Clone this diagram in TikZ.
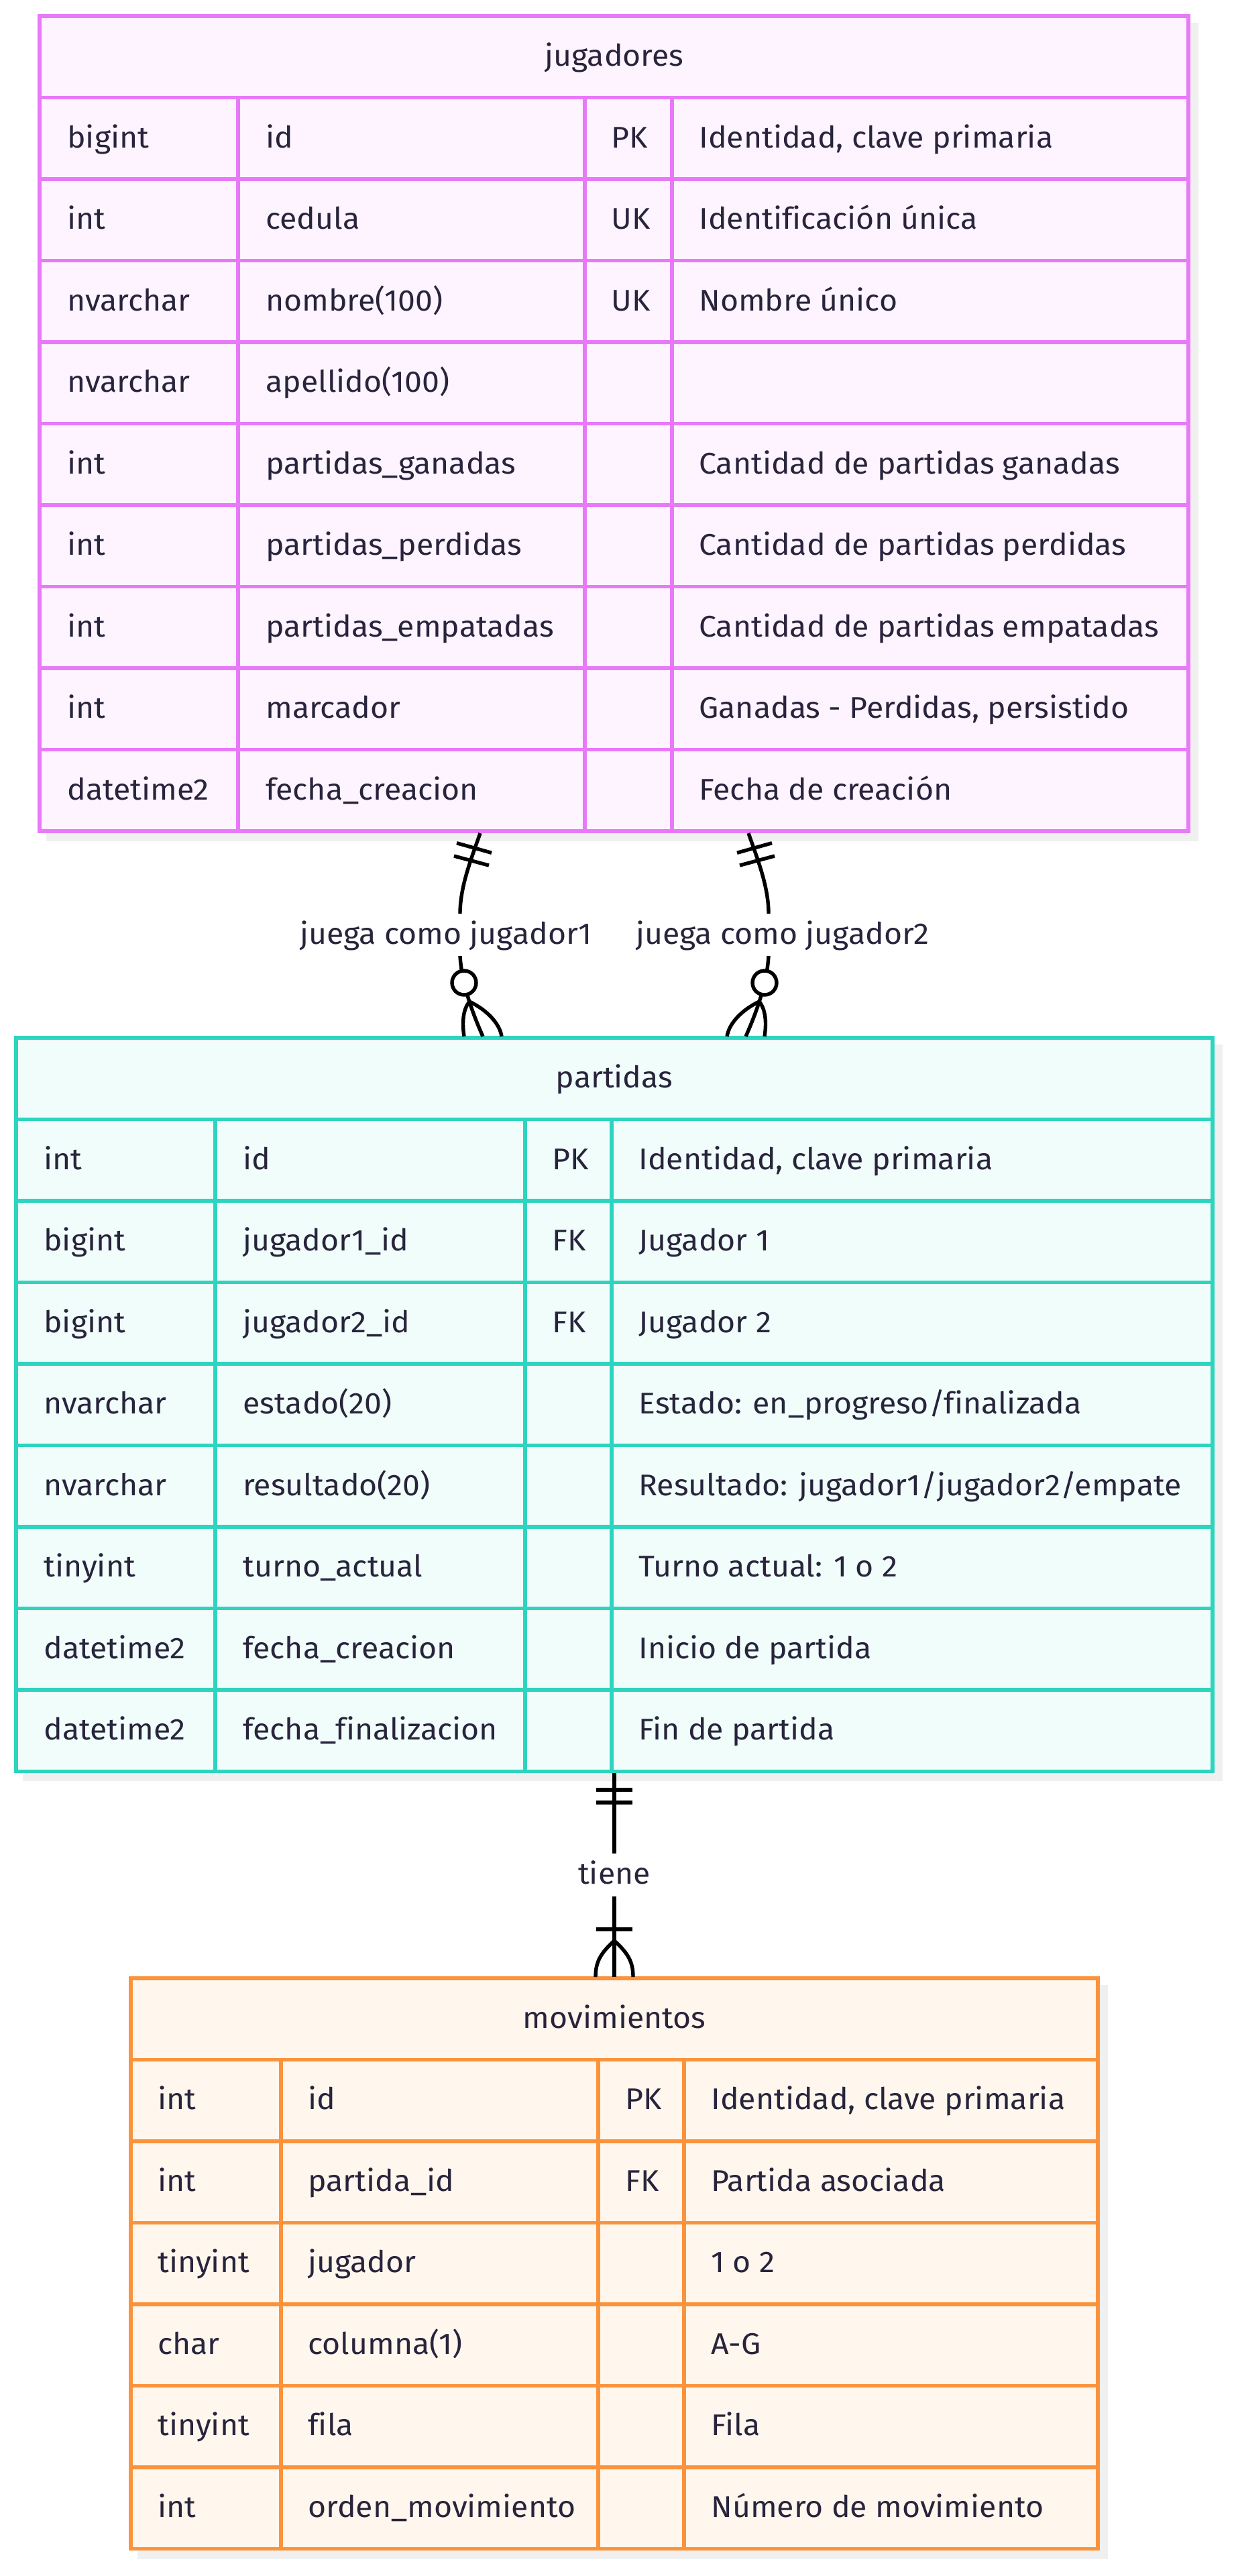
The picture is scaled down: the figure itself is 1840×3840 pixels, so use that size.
\documentclass[tikz,border=0pt]{standalone}
\usepackage{fontspec}
\setmainfont{Fira Sans}[FakeStretch=1.04, Ligatures=NoCommon]
\usepackage{xcolor}
\definecolor{jugBorde}{HTML}{E879F9}
\definecolor{jugFondo}{HTML}{FDF4FF}
\definecolor{parBorde}{HTML}{2DD4BF}
\definecolor{parFondo}{HTML}{F0FDFA}
\definecolor{movBorde}{HTML}{FB923C}
\definecolor{movFondo}{HTML}{FFF7ED}
\definecolor{texto}{HTML}{28243C}
\definecolor{sombra}{HTML}{F0F0F0}

\tikzset{
  celda/.style={anchor=base west, inner sep=0pt, text=texto, font=\fontsize{22.3}{26}\selectfont},
  titulo/.style={anchor=base, inner sep=0pt, text=texto, font=\fontsize{22.3}{26}\selectfont},
  rel/.style={line width=2.7pt, black, line cap=butt},
}

\begin{document}
\begin{tikzpicture}[x=0.5pt,y=0.5pt,yscale=-1,xscale=1]
\useasboundingbox (0,0) rectangle (1840,3840);

% jugadores
\fill [sombra] (69,34) rectangle (1787,1254);
\filldraw [draw=jugBorde, fill=jugFondo, line width=2.7pt] (59,24) rectangle (1772,1239);
\draw [jugBorde, line width=2.7pt] (59,145.5) -- (1772,145.5) (59,267) -- (1772,267) (59,388.5) -- (1772,388.5) (59,510) -- (1772,510) (59,631.5) -- (1772,631.5) (59,753) -- (1772,753) (59,874.5) -- (1772,874.5) (59,996) -- (1772,996) (59,1117.5) -- (1772,1117.5) (355,145.5) -- (355,1239) (872,145.5) -- (872,1239) (1002,145.5) -- (1002,1239) ;
\node [titulo] (jugTitulo) at (916,98) {jugadores};
\node [celda] (jugTipo1) at (100,220) {bigint};
\node [celda] (jugCol1) at (396,220) {id};
\node [celda] (jugClave1) at (911,220) {PK};
\node [celda] (jugDesc1) at (1042,220) {Identidad, clave primaria};
\node [celda] (jugTipo2) at (100,341) {int};
\node [celda] (jugCol2) at (396,341) {cedula};
\node [celda] (jugClave2) at (911,341) {UK};
\node [celda] (jugDesc2) at (1042,341) {Identificación única};
\node [celda] (jugTipo3) at (100,463) {nvarchar};
\node [celda] (jugCol3) at (396,463) {nombre(100)};
\node [celda] (jugClave3) at (911,463) {UK};
\node [celda] (jugDesc3) at (1042,463) {Nombre único};
\node [celda] (jugTipo4) at (100,584) {nvarchar};
\node [celda] (jugCol4) at (396,584) {apellido(100)};
\node [celda] (jugTipo5) at (100,706) {int};
\node [celda] (jugCol5) at (396,706) {partidas\_ganadas};
\node [celda] (jugDesc5) at (1042,706) {Cantidad de partidas ganadas};
\node [celda] (jugTipo6) at (100,827) {int};
\node [celda] (jugCol6) at (396,827) {partidas\_perdidas};
\node [celda] (jugDesc6) at (1042,827) {Cantidad de partidas perdidas};
\node [celda] (jugTipo7) at (100,949) {int};
\node [celda] (jugCol7) at (396,949) {partidas\_empatadas};
\node [celda] (jugDesc7) at (1042,949) {Cantidad de partidas empatadas};
\node [celda] (jugTipo8) at (100,1070) {int};
\node [celda] (jugCol8) at (396,1070) {marcador};
\node [celda] (jugDesc8) at (1042,1070) {Ganadas - Perdidas, persistido};
\node [celda] (jugTipo9) at (100,1192) {datetime2};
\node [celda] (jugCol9) at (396,1192) {fecha\_creacion};
\node [celda] (jugDesc9) at (1042,1192) {Fecha de creación};

% partidas
\fill [sombra] (34,1557) rectangle (1823,2655);
\filldraw [draw=parBorde, fill=parFondo, line width=2.7pt] (24,1547) rectangle (1808,2640.5);
\draw [parBorde, line width=2.7pt] (24,1668.5) -- (1808,1668.5) (24,1790) -- (1808,1790) (24,1911.5) -- (1808,1911.5) (24,2033) -- (1808,2033) (24,2154.5) -- (1808,2154.5) (24,2276) -- (1808,2276) (24,2397.5) -- (1808,2397.5) (24,2519) -- (1808,2519) (321,1668.5) -- (321,2640.5) (783,1668.5) -- (783,2640.5) (912,1668.5) -- (912,2640.5) ;
\node [titulo] (parTitulo) at (916,1621) {partidas};
\node [celda] (parTipo1) at (65,1743) {int};
\node [celda] (parCol1) at (362,1743) {id};
\node [celda] (parClave1) at (823,1743) {PK};
\node [celda] (parDesc1) at (952,1743) {Identidad, clave primaria};
\node [celda] (parTipo2) at (65,1864) {bigint};
\node [celda] (parCol2) at (362,1864) {jugador1\_id};
\node [celda] (parClave2) at (823,1864) {FK};
\node [celda] (parDesc2) at (952,1864) {Jugador 1};
\node [celda] (parTipo3) at (65,1986) {bigint};
\node [celda] (parCol3) at (362,1986) {jugador2\_id};
\node [celda] (parClave3) at (823,1986) {FK};
\node [celda] (parDesc3) at (952,1986) {Jugador 2};
\node [celda] (parTipo4) at (65,2107) {nvarchar};
\node [celda] (parCol4) at (362,2107) {estado(20)};
\node [celda] (parDesc4) at (952,2107) {Estado: en\_progreso/finalizada};
\node [celda] (parTipo5) at (65,2229) {nvarchar};
\node [celda] (parCol5) at (362,2229) {resultado(20)};
\node [celda] (parDesc5) at (952,2229) {Resultado: jugador1/jugador2/empate};
\node [celda] (parTipo6) at (65,2350) {tinyint};
\node [celda] (parCol6) at (362,2350) {turno\_actual};
\node [celda] (parDesc6) at (952,2350) {Turno actual: 1 o 2};
\node [celda] (parTipo7) at (65,2472) {datetime2};
\node [celda] (parCol7) at (362,2472) {fecha\_creacion};
\node [celda] (parDesc7) at (952,2472) {Inicio de partida};
\node [celda] (parTipo8) at (65,2593) {datetime2};
\node [celda] (parCol8) at (362,2593) {fecha\_finalizacion};
\node [celda] (parDesc8) at (952,2593) {Fin de partida};

% movimientos
\fill [sombra] (205,2959) rectangle (1652,3815);
\filldraw [draw=movBorde, fill=movFondo, line width=2.7pt] (195,2949) rectangle (1637,3799.5);
\draw [movBorde, line width=2.7pt] (195,3070.5) -- (1637,3070.5) (195,3192) -- (1637,3192) (195,3313.5) -- (1637,3313.5) (195,3435) -- (1637,3435) (195,3556.5) -- (1637,3556.5) (195,3678) -- (1637,3678) (419,3070.5) -- (419,3799.5) (892,3070.5) -- (892,3799.5) (1020,3070.5) -- (1020,3799.5) ;
\node [titulo] (movTitulo) at (916,3023) {movimientos};
\node [celda] (movTipo1) at (235,3144) {int};
\node [celda] (movCol1) at (459,3144) {id};
\node [celda] (movClave1) at (932,3144) {PK};
\node [celda] (movDesc1) at (1060,3144) {Identidad, clave primaria};
\node [celda] (movTipo2) at (235,3266) {int};
\node [celda] (movCol2) at (459,3266) {partida\_id};
\node [celda] (movClave2) at (932,3266) {FK};
\node [celda] (movDesc2) at (1060,3266) {Partida asociada};
\node [celda] (movTipo3) at (235,3387) {tinyint};
\node [celda] (movCol3) at (459,3387) {jugador};
\node [celda] (movDesc3) at (1060,3387) {1 o 2};
\node [celda] (movTipo4) at (235,3509) {char};
\node [celda] (movCol4) at (459,3509) {columna(1)};
\node [celda] (movDesc4) at (1060,3509) {A-G};
\node [celda] (movTipo5) at (235,3630) {tinyint};
\node [celda] (movCol5) at (459,3630) {fila};
\node [celda] (movDesc5) at (1060,3630) {Fila};
\node [celda] (movTipo6) at (235,3752) {int};
\node [celda] (movCol6) at (459,3752) {orden\_movimiento};
\node [celda] (movDesc6) at (1060,3752) {Número de movimiento};

% juega como jugador1
\coordinate (r1a) at (716,1242);
\coordinate (r1b) at (686,1362);
\coordinate (r1c) at (686,1425);
\coordinate (r1d) at (720,1545);
\draw [rel] (r1a) .. controls (702,1282) and (686,1322) .. (r1b);
\draw [rel] (681,1256.7) -- (733,1271.3) (677,1276) -- (729,1290);
\draw [rel] (r1c) .. controls (688,1460) and (700,1500) .. (r1d);
\draw [rel, fill=white] (692,1465) circle [radius=18];
\draw [rel] (700,1493) .. controls (690,1505) and (689,1525) .. (692,1545) (700,1493) .. controls (725,1505) and (745,1525) .. (748,1545);
\node [titulo] (lblJug1) at (665,1407) {juega como jugador1};

% juega como jugador2
\coordinate (r2a) at (1116,1242);
\coordinate (r2b) at (1146,1362);
\coordinate (r2c) at (1146,1425);
\coordinate (r2d) at (1112,1545);
\draw [rel] (r2a) .. controls (1130,1282) and (1146,1322) .. (r2b);
\draw [rel] (1151,1256.7) -- (1099,1271.3) (1155,1276) -- (1103,1290);
\draw [rel] (r2c) .. controls (1144,1460) and (1132,1500) .. (r2d);
\draw [rel, fill=white] (1140,1465) circle [radius=18];
\draw [rel] (1132,1493) .. controls (1142,1505) and (1143,1525) .. (1140,1545) (1132,1493) .. controls (1107,1505) and (1087,1525) .. (1084,1545);
\node [titulo] (lblJug2) at (1167,1407) {juega como jugador2};

% tiene
\coordinate (r3a) at (916,2643);
\coordinate (r3b) at (916,2763);
\coordinate (r3c) at (916,2827);
\coordinate (r3d) at (916,2947);
\draw [rel] (r3a) -- (r3b);
\draw [rel] (889,2668) -- (943,2668) (889,2687) -- (943,2687);
\draw [rel] (r3c) -- (r3d);
\draw [rel] (889,2876) -- (943,2876);
\draw [rel] (916,2893) .. controls (895,2912) and (888,2925) .. (888,2947) (916,2893) .. controls (937,2912) and (944,2925) .. (944,2947);
\node [titulo] (lblTiene) at (916,2808) {tiene};
\end{tikzpicture}
\end{document}
